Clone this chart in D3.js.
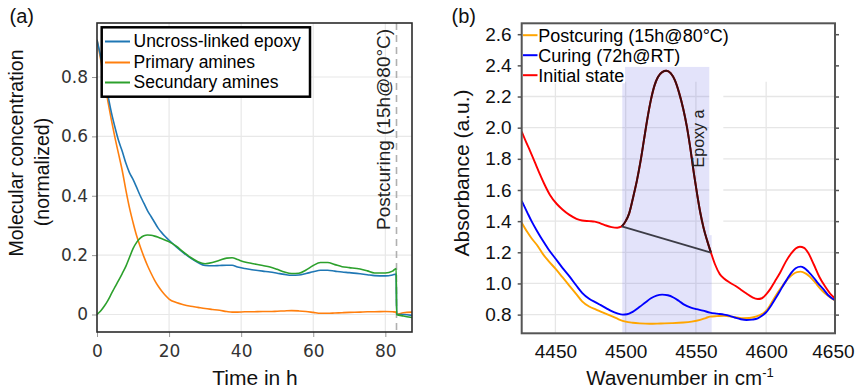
<!DOCTYPE html>
<html>
<head>
<meta charset="utf-8">
<script src="https://cdn.jsdelivr.net/npm/d3@7"></script>
<style>
  body { margin: 0; background: #fff; }
  svg { display: block; }
  .axA text { font-family: "DejaVu Sans", sans-serif; font-size: 17px; fill: #333; }
  .axA line { stroke: #999; }
  .axB text { font-family: "Liberation Sans", Arial, sans-serif; font-size: 19px; fill: #111; }
  .axB line { stroke: #555; stroke-width: 1.5; }
</style>
</head>
<body>
<svg id="fig" width="856" height="388"></svg>
<script>
// ---------- (a) molecular concentration during cure ----------
const timeH = [0,1,2,3,4,5,6,7,8,9,10,11,12,13,14,15,16,17,18,19,20,22,24,26,28,30,32,34,36,37.5,39,41,43,46,48,50,52,54,56,58,60,62,64,66,68,70,73,75,77,80,82,83,83.15,85,87.4];
const uncrosslinkedEpoxy = [0.925,0.87,0.80,0.74,0.68,0.63,0.585,0.55,0.51,0.478,0.455,0.428,0.40,0.375,0.35,0.33,0.31,0.29,0.275,0.262,0.25,0.228,0.208,0.19,0.175,0.165,0.164,0.165,0.166,0.166,0.16,0.155,0.151,0.146,0.143,0.139,0.135,0.132,0.133,0.138,0.144,0.149,0.149,0.146,0.143,0.141,0.137,0.134,0.131,0.13,0.133,0.136,0.0,0.0,-0.003];
const primaryAmines = [0.926,0.86,0.79,0.72,0.655,0.595,0.54,0.485,0.42,0.36,0.31,0.265,0.228,0.195,0.165,0.139,0.115,0.095,0.078,0.064,0.052,0.04,0.033,0.028,0.024,0.02,0.017,0.014,0.01,0.008,0.008,0.009,0.009,0.01,0.01,0.011,0.012,0.013,0.012,0.01,0.007,0.004,0.004,0.005,0.006,0.007,0.008,0.009,0.009,0.01,0.009,0.008,0.001,0.006,0.008];
const secundaryAmines = [0,0.012,0.028,0.047,0.07,0.093,0.115,0.138,0.162,0.192,0.222,0.243,0.257,0.265,0.268,0.267,0.264,0.26,0.255,0.25,0.245,0.23,0.21,0.192,0.178,0.171,0.175,0.183,0.19,0.191,0.185,0.177,0.172,0.165,0.16,0.152,0.143,0.138,0.139,0.15,0.165,0.175,0.175,0.168,0.161,0.158,0.153,0.147,0.14,0.14,0.146,0.155,0.0,-0.005,-0.01];
const seriesNamesA = ["Uncross-linked epoxy", "Primary amines", "Secundary amines"];
const postcuringStartH = 83.1;
const timeTicks = [0, 20, 40, 60, 80];
const concTicks = [0, 0.2, 0.4, 0.6, 0.8];

// ---------- (b) NIR absorbance spectra ----------
const wnInitial = [4426,4429,4432,4436,4439,4442,4446,4451,4455,4460,4465,4469,4474,4478,4482,4486,4490,4494,4497.2,4500,4502.5,4505.5,4508,4510.5,4513,4515.5,4518,4520.5,4523,4526,4529,4532,4535,4538,4541,4543.5,4546,4548.5,4551,4553,4555.5,4558,4560.7,4563.5,4567,4570,4574,4578,4582,4586,4590,4594,4597,4600,4603,4606,4610,4614,4618,4621,4624,4627,4630,4634,4638,4642,4646,4649];
const absInitial = [1.975,1.91,1.85,1.765,1.70,1.64,1.57,1.51,1.475,1.44,1.415,1.404,1.40,1.397,1.386,1.372,1.362,1.358,1.366,1.40,1.45,1.56,1.66,1.78,1.92,2.06,2.18,2.27,2.325,2.357,2.365,2.35,2.305,2.225,2.12,2.01,1.87,1.71,1.565,1.46,1.355,1.275,1.198,1.125,1.06,1.032,1.006,0.985,0.96,0.935,0.912,0.9,0.905,0.93,0.965,1.01,1.07,1.14,1.195,1.225,1.236,1.228,1.195,1.12,1.04,0.98,0.93,0.905];
const wnCuring = [4426,4430,4433,4437,4441,4445,4450,4455,4460,4465,4469,4474,4479,4482,4486,4490,4494,4498,4501,4505,4510,4514,4518,4522,4526,4530,4534,4538,4542,4546,4550.5,4555,4560,4565,4570,4574,4578,4582,4586,4590,4594,4597,4600,4604,4607.5,4611,4614.6,4618,4621,4624.5,4627,4630,4634,4637,4641,4644,4649];
const absCuring = [1.53,1.455,1.40,1.335,1.275,1.22,1.16,1.10,1.045,0.985,0.94,0.902,0.877,0.862,0.842,0.822,0.808,0.80,0.802,0.818,0.85,0.878,0.905,0.922,0.928,0.924,0.91,0.887,0.862,0.846,0.835,0.826,0.813,0.806,0.80,0.792,0.78,0.77,0.765,0.768,0.776,0.792,0.815,0.865,0.916,0.97,1.023,1.07,1.098,1.108,1.10,1.076,1.035,1.0,0.96,0.926,0.893];
const wnPostcuring = [4426,4430,4433,4437,4441,4445,4450,4455,4460,4465,4469,4474,4479,4484,4490,4495,4500,4505,4510,4517,4525,4533,4541,4547,4553,4557,4560,4565,4570,4574,4579,4584,4588,4591,4595,4598,4601,4605,4608.5,4612,4616,4619.3,4622,4624.6,4628,4631,4635,4638.3,4642,4645.4,4649];
const absPostcuring = [1.39,1.33,1.29,1.245,1.19,1.145,1.095,1.04,0.985,0.93,0.885,0.852,0.832,0.812,0.79,0.77,0.755,0.748,0.744,0.741,0.743,0.745,0.749,0.755,0.766,0.778,0.787,0.79,0.792,0.789,0.782,0.777,0.778,0.783,0.795,0.809,0.835,0.894,0.945,0.99,1.035,1.061,1.073,1.076,1.065,1.044,1.005,0.969,0.935,0.912,0.89];
const seriesNamesB = ["Postcuring (15h@80°C)", "Curing (72h@RT)", "Initial state"];
const epoxyBandWn = [4497.6, 4559.5];   // integration window of the epoxy band
const epoxyBandTop = 2.39;
const wnTicks = [4450, 4500, 4550, 4600, 4650];
const absTicks = [0.8, 1.0, 1.2, 1.4, 1.6, 1.8, 2.0, 2.2, 2.4, 2.6];

const svg = d3.select("#fig");
const FONT = '"Liberation Sans", Arial, sans-serif';

// ================= panel (a) =================
const A = { l: 97, r: 412, t: 23, b: 332 };
const xA = d3.scaleLinear().domain([0, 87.4]).range([A.l, A.r]);
const yA = d3.scaleLinear().domain([-0.059, 0.982]).range([A.b, A.t]);

const gA = svg.append("g");
svg.append("clipPath").attr("id", "clipA").append("rect")
  .attr("x", A.l).attr("y", A.t).attr("width", A.r - A.l).attr("height", A.b - A.t);

// grid
gA.append("g").selectAll("line").data(concTicks).join("line")
  .attr("x1", A.l).attr("x2", A.r).attr("y1", d => yA(d)).attr("y2", d => yA(d))
  .attr("stroke", "#e8e8e8").attr("stroke-width", 1.2);
gA.append("g").selectAll("line").data(timeTicks.filter(d => d > 0)).join("line")
  .attr("x1", d => xA(d)).attr("x2", d => xA(d)).attr("y1", A.t).attr("y2", A.b)
  .attr("stroke", "#e8e8e8").attr("stroke-width", 1.2);

// postcuring marker
gA.append("line")
  .attr("x1", xA(postcuringStartH)).attr("x2", xA(postcuringStartH))
  .attr("y1", A.t).attr("y2", A.b)
  .attr("stroke", "#b0b0b0").attr("stroke-width", 1.6).attr("stroke-dasharray", "7,5");

gA.append("text")
  .attr("transform", `translate(${xA(postcuringStartH) - 6.5},230) rotate(-90)`)
  .attr("font-family", FONT).attr("font-size", 19).attr("fill", "#222")
  .text("Postcuring (15h@80°C)");

const colorsA = ["#1f77b4", "#ff7f0e", "#2ca02c"];
const seriesA = [uncrosslinkedEpoxy, primaryAmines, secundaryAmines];
const lineA = d3.line().x(d => xA(d[0])).y(d => yA(d[1])).curve(d3.curveMonotoneX);
const linesA = gA.append("g").attr("clip-path", "url(#clipA)");
[1, 0, 2].forEach(i => {
  linesA.append("path")
    .datum(timeH.map((t, k) => [t, seriesA[i][k]]))
    .attr("d", lineA).attr("fill", "none")
    .attr("stroke", colorsA[i]).attr("stroke-width", 1.6);
});

// axes
const axLA = gA.append("g").attr("class", "axA").attr("transform", `translate(${A.l},0)`)
  .call(d3.axisLeft(yA).tickValues(concTicks)
    .tickFormat(d => d === 0 ? "0" : d3.format(".1f")(d)).tickSize(5).tickPadding(4));
axLA.select(".domain").remove();
const axBA = gA.append("g").attr("class", "axA").attr("transform", `translate(0,${A.b})`)
  .call(d3.axisBottom(xA).tickValues(timeTicks).tickSize(5).tickPadding(8));
axBA.select(".domain").remove();

// frame
gA.append("rect").attr("x", A.l).attr("y", A.t)
  .attr("width", A.r - A.l).attr("height", A.b - A.t)
  .attr("fill", "none").attr("stroke", "#2b2b2b").attr("stroke-width", 1.6);

// legend
const legA = gA.append("g");
legA.append("rect").attr("x", 101.7).attr("y", 27.3).attr("width", 208.3).attr("height", 69.4)
  .attr("fill", "#fff").attr("stroke", "#000").attr("stroke-width", 2.5);
const legRowsA = [47, 68, 88];
seriesNamesA.forEach((name, i) => {
  legA.append("line").attr("x1", 105).attr("x2", 130)
    .attr("y1", legRowsA[i] - 5.5).attr("y2", legRowsA[i] - 5.5)
    .attr("stroke", colorsA[i]).attr("stroke-width", 2);
  legA.append("text").attr("x", 133.5).attr("y", legRowsA[i])
    .attr("font-family", FONT).attr("font-size", 17.5).attr("fill", "#000").text(name);
});

// axis titles
gA.append("text").attr("x", (A.l + A.r) / 2 + 0.5).attr("y", 385)
  .attr("text-anchor", "middle").attr("font-family", FONT).attr("font-size", 21)
  .attr("fill", "#111").text("Time in h");
gA.append("text").attr("transform", "translate(22.5,153) rotate(-90)")
  .attr("text-anchor", "middle").attr("font-family", FONT).attr("font-size", 19.5)
  .attr("fill", "#111").text("Molecular concentration");
gA.append("text").attr("transform", "translate(49,172) rotate(-90)")
  .attr("text-anchor", "middle").attr("font-family", FONT).attr("font-size", 19.5)
  .attr("fill", "#111").text("(normalized)");
gA.append("text").attr("x", 9.5).attr("y", 23).attr("font-family", FONT)
  .attr("font-size", 20).attr("fill", "#111").text("(a)");

// ================= panel (b) =================
const B = { l: 521.7, r: 835, t: 23.3, b: 333.3 };
const xB = d3.scaleLinear().domain([4426, 4649]).range([B.l, B.r]);
const yB = d3.scaleLinear().domain([0.68, 2.67]).range([B.b, B.t]);

const gB = svg.append("g");
svg.append("clipPath").attr("id", "clipB").append("rect")
  .attr("x", B.l).attr("y", B.t).attr("width", B.r - B.l).attr("height", B.b - B.t);

// grid (drawn only over the lower part of the frame)
const gridTopAbs = 2.295;
gB.append("g").selectAll("line").data(absTicks.filter(d => d <= 2.2)).join("line")
  .attr("x1", B.l).attr("x2", B.r).attr("y1", d => yB(d)).attr("y2", d => yB(d))
  .attr("stroke", "#e6e6e6").attr("stroke-width", 1.3);
gB.append("g").selectAll("line").data(wnTicks.filter(d => d < 4650)).join("line")
  .attr("x1", d => xB(d)).attr("x2", d => xB(d)).attr("y1", yB(gridTopAbs)).attr("y2", B.b)
  .attr("stroke", "#e6e6e6").attr("stroke-width", 1.3);

// epoxy band window
const bandLowerAbs = 1.31;
gB.append("rect")
  .attr("x", xB(epoxyBandWn[1])).attr("y", yB(epoxyBandTop))
  .attr("width", xB(4569.5) - xB(epoxyBandWn[1])).attr("height", yB(bandLowerAbs) - yB(epoxyBandTop))
  .attr("fill", "#fff");
gB.append("rect")
  .attr("x", xB(epoxyBandWn[0])).attr("y", yB(epoxyBandTop))
  .attr("width", xB(epoxyBandWn[1]) - xB(epoxyBandWn[0]))
  .attr("height", B.b - yB(epoxyBandTop))
  .attr("fill", "rgb(100,100,230)").attr("fill-opacity", 0.18);
gB.append("rect")
  .attr("x", xB(epoxyBandWn[1])).attr("y", yB(bandLowerAbs))
  .attr("width", xB(4561.2) - xB(epoxyBandWn[1]))
  .attr("height", B.b - yB(bandLowerAbs))
  .attr("fill", "rgb(100,100,230)").attr("fill-opacity", 0.18);

// spectra
const lineB = d3.line().x(d => xB(d[0])).y(d => yB(d[1])).curve(d3.curveMonotoneX);
const linesB = gB.append("g").attr("clip-path", "url(#clipB)");
const specs = [
  { wn: wnPostcuring, ab: absPostcuring, color: "#ffa500" },
  { wn: wnCuring, ab: absCuring, color: "#0000ff" },
  { wn: wnInitial, ab: absInitial, color: "#ff0000" }
];
specs.forEach(s => {
  linesB.append("path").datum(s.wn.map((w, k) => [w, s.ab[k]]))
    .attr("d", lineB).attr("fill", "none")
    .attr("stroke", s.color).attr("stroke-width", 1.9);
});

// epoxy peak of the initial spectrum and its baseline
const peakPts = wnInitial.map((w, k) => [w, absInitial[k]])
  .filter(d => d[0] >= 4497 && d[0] <= 4561);
linesB.append("path").datum(peakPts).attr("d", lineB).attr("fill", "none")
  .attr("stroke", "#3a0d10").attr("stroke-width", 2);
linesB.append("line")
  .attr("x1", xB(peakPts[0][0])).attr("y1", yB(peakPts[0][1]))
  .attr("x2", xB(peakPts[peakPts.length - 1][0])).attr("y2", yB(peakPts[peakPts.length - 1][1]))
  .attr("stroke", "#3c3c46").attr("stroke-width", 1.8);

gB.append("text")
  .attr("transform", `translate(704,138.5) rotate(-90)`)
  .attr("text-anchor", "middle").attr("font-family", FONT).attr("font-size", 16)
  .attr("fill", "#222").text("Epoxy a");

// axes
const axLB = gB.append("g").attr("class", "axB").attr("transform", `translate(${B.l},0)`)
  .call(d3.axisLeft(yB).tickValues(absTicks).tickFormat(d3.format(".1f")).tickSize(4).tickPadding(6));
axLB.select(".domain").remove();
const axRB = gB.append("g").attr("class", "axB").attr("transform", `translate(${B.r},0)`)
  .call(d3.axisRight(yB).tickValues(absTicks).tickFormat("").tickSize(4));
axRB.select(".domain").remove();
const axBB = gB.append("g").attr("class", "axB").attr("transform", `translate(0,${B.b})`)
  .call(d3.axisBottom(xB).tickValues(wnTicks).tickFormat(d3.format("d")).tickSize(0).tickPadding(11));
axBB.select(".domain").remove();
// keep the last wavenumber label inside the page
axBB.selectAll(".tick text").filter(d => d === wnTicks[wnTicks.length - 1]).attr("x", -3.5);

// legend
const legB = gB.append("g");
legB.append("rect").attr("x", B.l + 1).attr("y", B.t + 1)
  .attr("width", 625 - B.l - 1).attr("height", 83.3 - B.t - 1).attr("fill", "#fff");
const legRowsB = [41.7, 61.7, 81.7];
seriesNamesB.forEach((name, i) => {
  legB.append("line").attr("x1", 523).attr("x2", 537.5)
    .attr("y1", legRowsB[i] - 6.5).attr("y2", legRowsB[i] - 6.5)
    .attr("stroke", specs[i].color).attr("stroke-width", 2);
  legB.append("text").attr("x", 538.3).attr("y", legRowsB[i])
    .attr("font-family", FONT).attr("font-size", 18).attr("fill", "#000").text(name);
});

// frame
gB.append("rect").attr("x", B.l).attr("y", B.t)
  .attr("width", B.r - B.l).attr("height", B.b - B.t)
  .attr("fill", "none").attr("stroke", "#555").attr("stroke-width", 2);

// axis titles
const xt = gB.append("text").attr("x", 680).attr("y", 385)
  .attr("text-anchor", "middle").attr("font-family", FONT).attr("font-size", 20.5).attr("fill", "#111");
xt.append("tspan").text("Wavenumber in cm");
xt.append("tspan").attr("dy", -8).attr("font-size", 13).text("-1");
gB.append("text").attr("transform", "translate(468.5,173) rotate(-90)")
  .attr("text-anchor", "middle").attr("font-family", FONT).attr("font-size", 21)
  .attr("fill", "#111").text("Absorbance (a.u.)");
gB.append("text").attr("x", 451.5).attr("y", 23).attr("font-family", FONT)
  .attr("font-size", 20).attr("fill", "#111").text("(b)");
</script>
</body>
</html>
